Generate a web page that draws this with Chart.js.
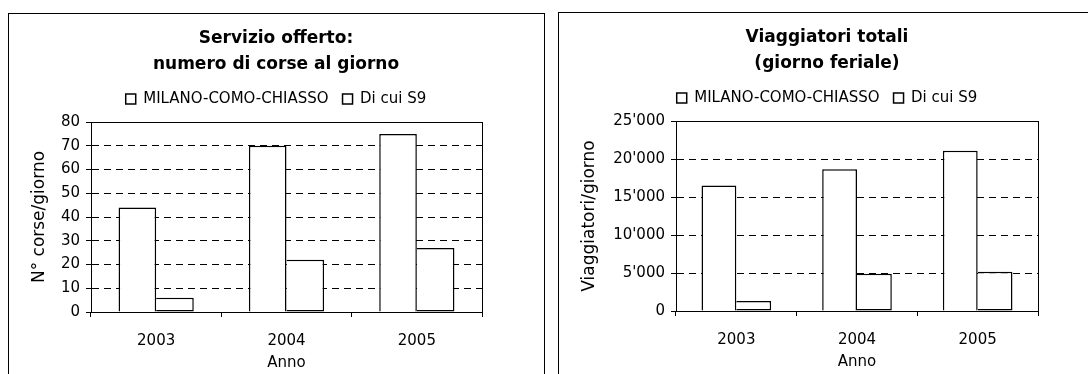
<!DOCTYPE html>
<html>
<head>
<meta charset="utf-8">
<title>Servizio offerto e viaggiatori</title>
<script src="https://cdn.jsdelivr.net/npm/chart.js@4/dist/chart.umd.min.js"></script>
<style>
  html, body { margin: 0; padding: 0; background: #fff; width: 1088px; height: 374px; overflow: hidden; }
  .panel { position: absolute; border: 1px solid #000; box-sizing: border-box; }
  #leftPanel { left: 8px; top: 13px; width: 537px; height: 400px; }
  #rightPanel { left: 558px; top: 12px; width: 600px; height: 400px; }
  canvas { position: absolute; }
  #corseChart { left: 9px; top: 14px; }
  #viaggChart { left: 559px; top: 13px; }
</style>
</head>
<body>
<div class="panel" id="leftPanel"></div>
<div class="panel" id="rightPanel"></div>
<canvas id="corseChart" width="534" height="360"></canvas>
<canvas id="viaggChart" width="536" height="361"></canvas>
<script>
// data
const years = ["2003", "2004", "2005"];
const seriesNames = ["MILANO-COMO-CHIASSO", "Di cui S9"];

const corseMCC = [44, 70, 75];
const corseS9 = [6, 22, 27];
const corseAxis = [0, 80, 10]; // min, max, step

const viaggMCC = [16500, 18650, 21100];
const viaggS9 = [1300, 4900, 5150];
const viaggAxis = [0, 25000, 5000];

Chart.defaults.font.family = "'DejaVu Sans', Verdana, sans-serif";
Chart.defaults.color = "#000";

// 25000 -> 25'000
function swissNumber(v) {
  return String(v).replace(/\B(?=(\d{3})+(?!\d))/g, "'");
}

// solid frame round the plot area
const plotBorder = {
  id: "plotBorder",
  afterDraw(chart) {
    const a = chart.chartArea;
    const ctx = chart.ctx;
    ctx.save();
    ctx.strokeStyle = "#000";
    ctx.lineWidth = 1;
    ctx.strokeRect(Math.round(a.left - 0.5) + 0.5, Math.round(a.top - 0.5) + 0.5,
      Math.round(a.right - a.left), Math.round(a.bottom - a.top));
    ctx.restore();
  },
};

// a bit more room between the legend row and the plot
const legendGap = {
  id: "legendGap",
  afterInit(chart) {
    const legend = chart.legend;
    if (!legend) return;
    const fit = legend.fit;
    legend.fit = function () {
      fit.call(this);
      this.height += 5.5;
    };
  },
};

function buildChart(canvasId, cfg) {
  return new Chart(document.getElementById(canvasId), {
    type: "bar",
    data: {
      labels: years,
      datasets: [
        { label: seriesNames[0], data: cfg.main, backgroundColor: "#fff", borderColor: "#000", borderWidth: 1.5, borderSkipped: "start" },
        // shared edge is drawn by the left bar only
        { label: seriesNames[1], data: cfg.sub, backgroundColor: "#fff", borderColor: "#000", borderWidth: 1.5, borderSkipped: "left" },
      ],
    },
    options: {
      responsive: false,
      animation: false,
      devicePixelRatio: 1,
      layout: { padding: { left: 0, right: 0, top: 0, bottom: cfg.padBottom } },
      datasets: { bar: { categoryPercentage: 0.577, barPercentage: 1 } },
      plugins: {
        title: {
          display: true,
          text: cfg.title,
          color: "#000",
          font: { size: 17, weight: "bold", lineHeight: "26px" },
          padding: { top: 11.5, bottom: 0 },
        },
        legend: {
          labels: { boxWidth: 10, boxHeight: 10, padding: 14, color: "#000", font: { size: 15 } },
        },
        tooltip: { enabled: false },
      },
      scales: {
        x: {
          grid: { drawOnChartArea: false, tickLength: 5, color: "#000" },
          border: { color: "#000" },
          ticks: { padding: 15, color: "#000", font: { size: 15 } },
          title: { display: true, text: "Anno", color: "#000", font: { size: 15 }, padding: 0 },
          afterFit(scale) {
            scale.height = 60;
            scale.paddingLeft = 0;
            scale.paddingRight = cfg.padRight;
          },
        },
        y: {
          min: cfg.axis[0],
          max: cfg.axis[1],
          ticks: { stepSize: cfg.axis[2], padding: 6, color: "#000", font: { size: 15 }, callback: (v) => swissNumber(v) },
          grid: { color: "#000", tickLength: 5 },
          border: { color: "#000", dash: [7, 5] },
          title: { display: true, text: cfg.yTitle, color: "#000", font: { size: 17 }, padding: { top: 20.8, bottom: 0 } },
          afterFit(scale) {
            scale.width = cfg.yWidth;
            scale.paddingTop = cfg.top;
          },
        },
      },
    },
    plugins: [plotBorder, legendGap],
  });
}

buildChart("corseChart", {
  title: ["Servizio offerto:", "numero di corse al giorno"],
  yTitle: "N° corse/giorno",
  main: corseMCC,
  sub: corseS9,
  axis: corseAxis,
  yWidth: 82,
  top: 108,
  padRight: 61,
  padBottom: 2,
});

buildChart("viaggChart", {
  title: ["Viaggiatori totali", "(giorno feriale)"],
  yTitle: "Viaggiatori/giorno",
  main: viaggMCC,
  sub: viaggS9,
  axis: viaggAxis,
  yWidth: 117,
  top: 108,
  padRight: 57,
  padBottom: 3,
});
</script>
</body>
</html>
